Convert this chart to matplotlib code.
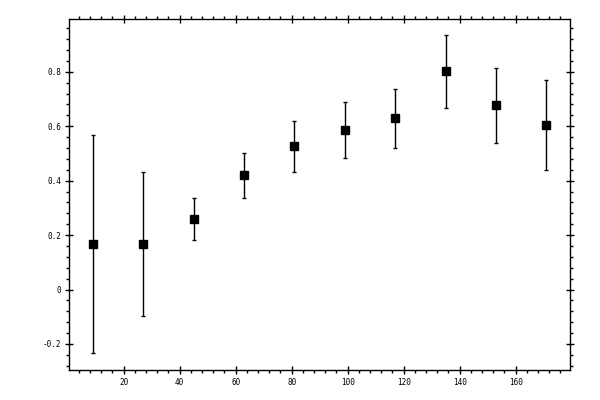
import matplotlib
matplotlib.use("Agg")
import matplotlib.pyplot as plt
from matplotlib.ticker import MultipleLocator

# bin centres and measured values
x_vals = [9, 27, 45, 63, 81, 99, 117, 135, 153, 171]
y_vals = [0.167, 0.167, 0.258, 0.419, 0.526, 0.585, 0.629, 0.801, 0.677, 0.603]
y_errs = [0.400, 0.264, 0.077, 0.081, 0.094, 0.103, 0.109, 0.133, 0.138, 0.165]

x_ticks = [20, 40, 60, 80, 100, 120, 140, 160]
y_ticks = [-0.2, 0, 0.2, 0.4, 0.6, 0.8]
y_labels = ["-0.2", "0", "0.2", "0.4", "0.6", "0.8"]

fig = plt.figure(figsize=(6, 4), dpi=100)
ax = fig.add_axes([0.115, 0.074, 0.8355, 0.878])

ax.errorbar(x_vals, y_vals, yerr=y_errs, fmt="s", color="black",
            markersize=5.2, elinewidth=1, capsize=1.7, capthick=1)

ax.set_xlim(0.5, 179.5)
ax.set_ylim(-0.297, 0.993)

ax.set_xticks(x_ticks)
ax.set_xticklabels([str(t) for t in x_ticks])
ax.set_yticks(y_ticks)
ax.set_yticklabels(y_labels)
ax.xaxis.set_minor_locator(MultipleLocator(4))
ax.yaxis.set_minor_locator(MultipleLocator(0.04))

ax.tick_params(which="major", direction="inout", length=5.8, width=1,
               top=True, right=True, pad=2.5,
               labelsize=5.5, labelfontfamily="DejaVu Sans Mono")
ax.tick_params(which="minor", direction="out", length=2.0, width=1,
               top=True, right=True)

for sp in ax.spines.values():
    sp.set_linewidth(1)

fig.savefig("out.png", dpi=100)
